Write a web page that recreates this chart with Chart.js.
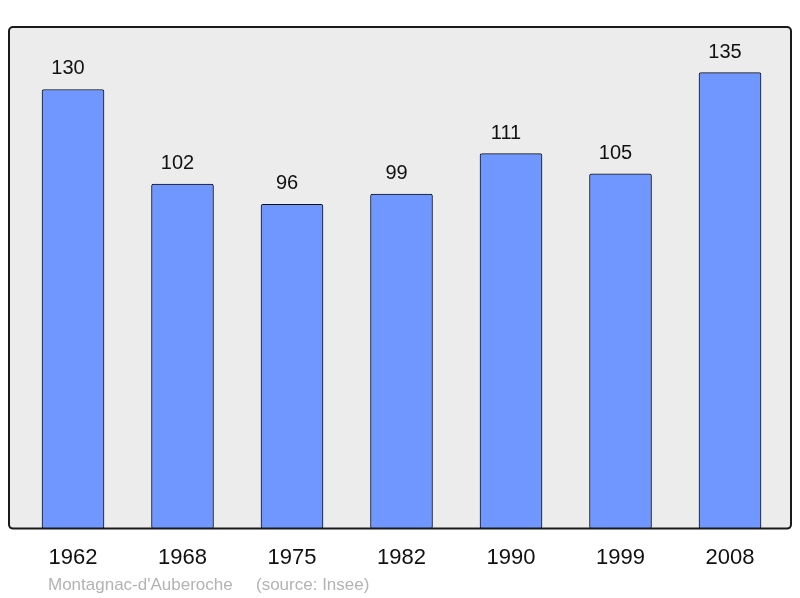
<!DOCTYPE html>
<html>
<head>
<meta charset="utf-8">
<script src="https://cdn.jsdelivr.net/npm/chart.js@4/dist/chart.umd.min.js"></script>
<style>
  html, body { margin: 0; padding: 0; background: #ffffff; }
  #wrap { width: 800px; height: 598px; }
</style>
</head>
<body>
<div id="wrap"><canvas id="pop-chart" width="800" height="598"></canvas></div>
<script>
// data
var years = ['1962', '1968', '1975', '1982', '1990', '1999', '2008'];
var population = [130, 102, 96, 99, 111, 105, 135];
var placeName = "Montagnac-d'Auberoche";
var sourceText = '(source: Insee)';

var ctx = document.getElementById('pop-chart').getContext('2d');

// grey box behind the bars, black frame drawn on top
var framePlugin = {
    id: 'frame',
    beforeDatasetsDraw: function(chart) {
        var a = chart.chartArea;
        var c = chart.ctx;
        c.save();
        c.fillStyle = '#ececec';
        c.beginPath();
        c.roundRect(a.left, a.top, a.right - a.left, a.bottom - a.top, 4);
        c.fill();
        c.restore();
    },
    afterDatasetsDraw: function(chart) {
        var a = chart.chartArea;
        var c = chart.ctx;
        c.save();
        c.strokeStyle = '#1a1a1a';
        c.lineWidth = 2;
        c.beginPath();
        c.roundRect(a.left, a.top, a.right - a.left, a.bottom - a.top, 4);
        c.stroke();
        c.restore();
    }
};

// value above every bar (sits a bit left of centre, as in the original) + footnote
var labelPlugin = {
    id: 'valueLabels',
    afterDraw: function(chart) {
        var c = chart.ctx;
        var meta = chart.getDatasetMeta(0);
        c.save();
        c.font = '20px "Liberation Sans", Arial, sans-serif';
        c.fillStyle = '#111111';
        c.textAlign = 'center';
        c.textBaseline = 'alphabetic';
        meta.data.forEach(function(bar, i) {
            c.fillText(String(population[i]), bar.x - 5, bar.y - 15);
        });
        c.font = '17px "Liberation Sans", Arial, sans-serif';
        c.fillStyle = '#b3b3b3';
        c.textAlign = 'left';
        c.fillText(placeName, 48, 590);
        c.fillText(sourceText, 256, 590);
        c.restore();
    }
};

var chart = new Chart(ctx, {
    type: 'bar',
    data: {
        datasets: [{
            data: population.map(function(v, i) { return { x: i, y: v }; }),
            backgroundColor: '#7096ff',
            borderColor: '#111111',
            borderWidth: 1,
            borderRadius: 2,
            borderSkipped: false,
            barThickness: 62
        }]
    },
    options: {
        responsive: false,
        animation: false,
        layout: {
            padding: { left: 9, right: 9, top: 27, bottom: 11 }
        },
        plugins: {
            legend: { display: false },
            tooltip: { enabled: false },
            title: { display: false }
        },
        scales: {
            x: {
                type: 'linear',
                offset: false,
                min: -0.5845,
                max: 6.557,
                grid: { display: false, drawTicks: false, offset: false },
                border: { display: false },
                afterBuildTicks: function(scale) {
                    scale.ticks = years.map(function(_, i) { return { value: i }; });
                },
                ticks: {
                    padding: 16,
                    autoSkip: false,
                    maxRotation: 0,
                    color: '#111111',
                    font: { family: '"Liberation Sans", Arial, sans-serif', size: 22 },
                    callback: function(value) { return years[value]; }
                }
            },
            y: {
                display: false,
                min: 0,
                max: 148.5
            }
        }
    },
    plugins: [framePlugin, labelPlugin]
});
</script>
</body>
</html>
